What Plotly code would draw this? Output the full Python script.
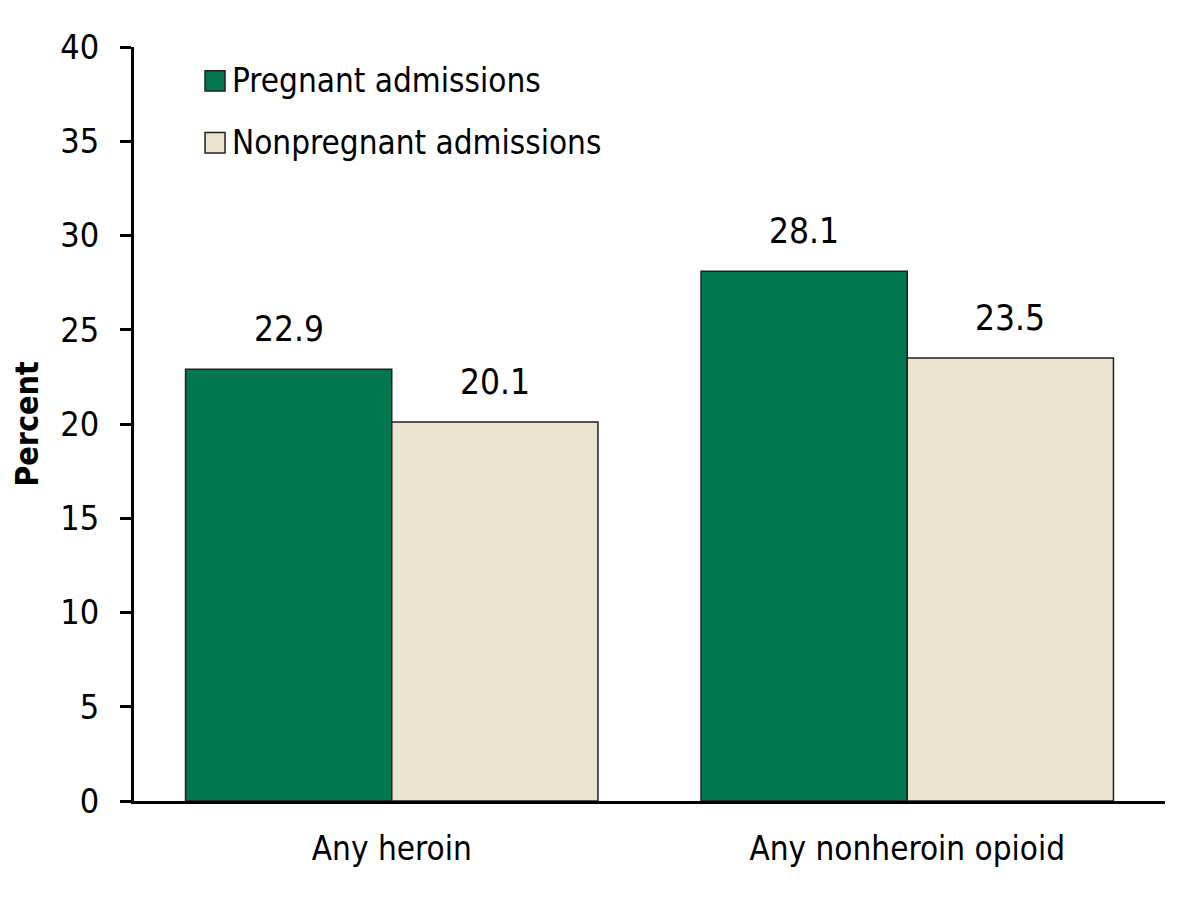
import plotly.graph_objects as go

categories = ["Any heroin", "Any nonheroin opioid"]
series_names = ["Pregnant admissions", "Nonpregnant admissions"]
pregnant = [22.9, 28.1]
nonpregnant = [20.1, 23.5]
y_ticks = [0, 5, 10, 15, 20, 25, 30, 35, 40]

colors = ["#00774F", "#EDE4D0"]
FONT = "DejaVu Sans Condensed, Liberation Sans Narrow, Arial Narrow, sans-serif"

fig = go.Figure()
for name, vals, col in zip(series_names, [pregnant, nonpregnant], colors):
    fig.add_trace(go.Bar(
        x=categories, y=vals, name=name,
        marker=dict(color=col, line=dict(color="#231F20", width=1.5)),
        showlegend=False,
    ))

# value labels above bars
bar_px = 206
for si, vals in enumerate([pregnant, nonpregnant]):
    shift = -bar_px / 2 if si == 0 else bar_px / 2
    for cat, v in zip(categories, vals):
        fig.add_annotation(
            x=cat, y=v, text=f"{v:.1f}", showarrow=False,
            xref="x", yref="y", xshift=shift, yshift=40, yanchor="middle",
            font=dict(family=FONT, size=35, color="#000000"),
        )

# manual legend (large square swatches)
leg_y = [0.955, 0.873]
for name, col, yy in zip(series_names, colors, leg_y):
    fig.add_shape(type="rect", xref="paper", yref="paper",
                  x0=0.0689, x1=0.0883, y0=yy - 0.0135, y1=yy + 0.0135,
                  fillcolor=col, line=dict(color="#231F20", width=1.5))
    fig.add_annotation(x=0.0935, y=yy, xref="paper", yref="paper",
                       text=name, showarrow=False, xanchor="left", yanchor="middle",
                       font=dict(family=FONT, size=33, color="#000000"))

fig.update_layout(
    width=1200, height=900,
    margin=dict(l=126, r=43, t=39, b=107),
    paper_bgcolor="white", plot_bgcolor="white",
    barmode="group", bargap=0.2, bargroupgap=0,
    font=dict(family=FONT, color="#000000"),
)
fig.update_xaxes(
    showline=True, linecolor="#000000", linewidth=3,
    ticks="", showgrid=False, zeroline=False,
    tickfont=dict(family=FONT, size=33, color="#000000"),
    ticklabelstandoff=16,
)
fig.update_yaxes(
    range=[0, 40], tickvals=y_ticks,
    showline=True, linecolor="#000000", linewidth=3,
    ticks="outside", ticklen=11, tickwidth=3, tickcolor="#000000",
    showgrid=False, zeroline=False,
    tickfont=dict(family=FONT, size=34, color="#000000"),
    ticklabelstandoff=14,
    title=dict(text="<b>Percent</b>", standoff=18,
               font=dict(family=FONT, size=32, color="#000000")),
)

fig.write_html("out.html")
